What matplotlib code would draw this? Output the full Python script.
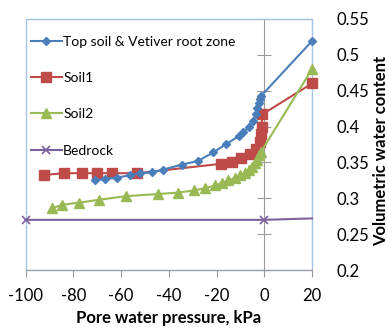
import matplotlib
matplotlib.use('Agg')
import matplotlib.pyplot as plt

plt.rcParams['font.family'] = ['Lato', 'DejaVu Sans']

# Top soil & Vetiver root zone
top_x = [-70.9, -66.8, -61.8, -56.3, -52.1, -47.2, -42.3, -34.6, -27.8, -21.3,
         -16.2, -10.5, -8.8, -6.2, -4.6, -3.5, -2.9, -2.2, -1.6, -1.2, 20]
top_y = [0.325, 0.327, 0.329, 0.332, 0.335, 0.336, 0.340, 0.347, 0.352, 0.364,
         0.375, 0.387, 0.392, 0.400, 0.408, 0.418, 0.426, 0.433, 0.439, 0.443, 0.519]

# Soil1
soil1_x = [-92.3, -83.9, -76.5, -70.0, -63.9, -53.2, -18.3, -13.6, -9.6, -6.1,
           -3.4, -1.8, -1.3, -1.1, -0.8, 20]
soil1_y = [0.3325, 0.335, 0.335, 0.335, 0.335, 0.335, 0.348, 0.351, 0.356, 0.362,
           0.369, 0.378, 0.390, 0.400, 0.417, 0.460]

# Soil2
soil2_x = [-89.1, -84.6, -77.6, -69.1, -57.9, -44.4, -36.0, -29.5, -24.8, -20.6,
           -17.8, -15.0, -12.2, -10.1, -8.0, -6.4, -5.0, -3.8, -2.9, -2.0, -1.3, 20]
soil2_y = [0.286, 0.291, 0.294, 0.298, 0.303, 0.306, 0.308, 0.311, 0.314, 0.318,
           0.321, 0.325, 0.328, 0.332, 0.335, 0.339, 0.344, 0.349, 0.354, 0.360, 0.365, 0.480]

# Bedrock
bed_x = [-100, 0, 20]
bed_y = [0.270, 0.270, 0.272]

x_ticks = [-100, -80, -60, -40, -20, 0, 20]
y_ticks = [0.2, 0.25, 0.3, 0.35, 0.4, 0.45, 0.5, 0.55]

fig = plt.figure(figsize=(3.88, 3.31), dpi=100)
ax = fig.add_axes([0.066, 0.184, 0.738, 0.759])

blue, red, green, purple = '#4a7ebb', '#be4b48', '#98b954', '#7d60a0'

ax.plot(top_x, top_y, color=blue, marker='D', markersize=4, lw=1.5,
        label='Top soil & Vetiver root zone', clip_on=False, zorder=4)
ax.plot(soil1_x, soil1_y, color=red, marker='s', markersize=6.5, lw=1.5,
        label='Soil1', clip_on=False, zorder=3)
ax.plot(soil2_x, soil2_y, color=green, marker='^', markersize=6.5, lw=1.5,
        label='Soil2', clip_on=False, zorder=3)
ax.plot(bed_x, bed_y, color=purple, marker='x', markersize=6, mew=1.2, lw=1.5,
        markevery=[0, 1], label='Bedrock', clip_on=False, zorder=3)

ax.set_xlim(-100, 20)
ax.set_ylim(0.2, 0.55)
ax.set_xticks(x_ticks)
ax.set_xticklabels([str(v) for v in x_ticks])
ax.set_yticks(y_ticks)
ax.set_yticklabels(['%g' % v for v in y_ticks])

# vertical axis crosses at x = 0, labels on the right
ax.spines['left'].set_position(('data', 0))
ax.spines['left'].set_color('#9a9a9a')
ax.spines['bottom'].set_color('#9a9a9a')
for s in ['top', 'right']:
    ax.spines[s].set_color('#a8c4e4')
ax.patch.set_edgecolor('#a8c4e4')
ax.patch.set_linewidth(1.0)

ax.tick_params(axis='y', left=True, right=False, labelleft=False, labelright=True,
               direction='inout', length=10, color='#9a9a9a', pad=13, labelsize=12)
ax.tick_params(axis='x', direction='out', length=5, color='#9a9a9a', pad=8, labelsize=12)

ax.set_xlabel('Pore water pressure, kPa', fontsize=12, fontweight='bold', labelpad=4)
ax.yaxis.set_label_position('right')
ax.set_ylabel('Volumetric water content', fontsize=12, fontweight='bold')
ax.yaxis.set_label_coords(1.212, 0.474)

ax.legend(loc='upper left', frameon=False, fontsize=10, handlelength=2.2,
          handletextpad=0.1, labelspacing=1.75, bbox_to_anchor=(0.0, 0.955),
          borderaxespad=0.0)

fig.savefig('out.png', dpi=100)
